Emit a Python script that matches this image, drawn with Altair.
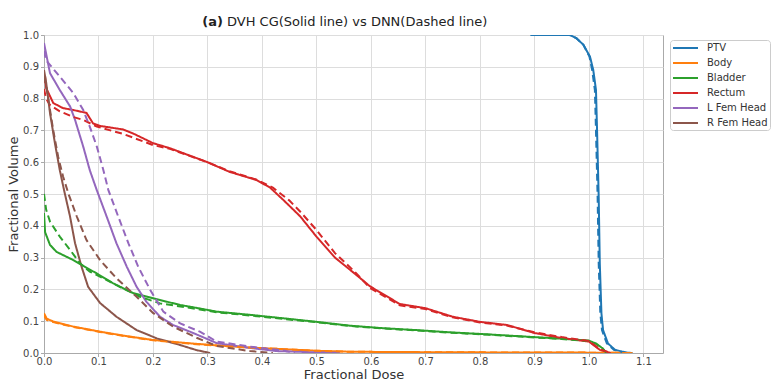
import altair as alt
import pandas as pd

organs = ["PTV", "Body", "Bladder", "Rectum", "L Fem Head", "R Fem Head"]
colors = ["#1f77b4", "#ff7f0e", "#2ca02c", "#d62728", "#9467bd", "#8c564b"]

title_tag = "(a)"
title_text = "DVH CG(Solid line) vs DNN(Dashed line)"
x_ticks = [0.0, 0.1, 0.2, 0.3, 0.4, 0.5, 0.6, 0.7, 0.8, 0.9, 1.0, 1.1]
y_ticks = [0.0, 0.1, 0.2, 0.3, 0.4, 0.5, 0.6, 0.7, 0.8, 0.9, 1.0]

# ---- CG (solid) ----
ptv_cg_x = [0.893, 0.93, 0.965, 0.977, 0.99, 1.002, 1.008, 1.013, 1.015, 1.018, 1.02, 1.023, 1.026, 1.035, 1.048, 1.069, 1.08]
ptv_cg_y = [1.0, 1.0, 1.0, 0.99, 0.969, 0.932, 0.89, 0.827, 0.70, 0.49, 0.282, 0.125, 0.072, 0.03, 0.01, 0.001, 0.0]
body_cg_x = [0.0, 0.005, 0.017, 0.054, 0.103, 0.152, 0.2, 0.25, 0.286, 0.317, 0.378, 0.44, 0.5, 0.561, 0.65, 0.8, 0.95, 1.02, 1.05, 1.08]
body_cg_y = [0.125, 0.108, 0.099, 0.083, 0.067, 0.053, 0.041, 0.033, 0.028, 0.024, 0.017, 0.012, 0.007, 0.004, 0.003, 0.002, 0.0015, 0.001, 0.0005, 0.0]
blad_cg_x = [0.0, 0.002, 0.011, 0.023, 0.054, 0.072, 0.097, 0.127, 0.164, 0.2, 0.25, 0.286, 0.317, 0.378, 0.44, 0.5, 0.561, 0.622, 0.684, 0.745, 0.8, 0.9, 0.95, 1.0, 1.013, 1.025, 1.032]
blad_cg_y = [0.44, 0.38, 0.34, 0.318, 0.292, 0.274, 0.25, 0.219, 0.188, 0.172, 0.151, 0.14, 0.13, 0.12, 0.109, 0.098, 0.086, 0.078, 0.072, 0.065, 0.06, 0.05, 0.045, 0.039, 0.03, 0.015, 0.0]
rect_cg_x = [0.0, 0.002, 0.004, 0.017, 0.035, 0.054, 0.078, 0.09, 0.103, 0.145, 0.164, 0.2, 0.231, 0.30, 0.34, 0.39, 0.415, 0.44, 0.47, 0.50, 0.534, 0.57, 0.598, 0.653, 0.70, 0.75, 0.8, 0.85, 0.9, 0.95, 1.0, 1.02, 1.04]
rect_cg_y = [0.85, 0.87, 0.833, 0.786, 0.77, 0.764, 0.755, 0.722, 0.714, 0.703, 0.69, 0.66, 0.644, 0.60, 0.57, 0.544, 0.52, 0.48, 0.43, 0.366, 0.30, 0.25, 0.21, 0.154, 0.141, 0.114, 0.098, 0.088, 0.063, 0.047, 0.036, 0.01, 0.0]
lfem_cg_x = [0.0, 0.011, 0.029, 0.048, 0.057, 0.072, 0.084, 0.0967, 0.115, 0.133, 0.152, 0.17, 0.188, 0.213, 0.237, 0.268, 0.286, 0.317, 0.378, 0.427, 0.5, 0.543]
lfem_cg_y = [0.975, 0.88, 0.827, 0.775, 0.733, 0.649, 0.575, 0.513, 0.429, 0.345, 0.271, 0.208, 0.161, 0.114, 0.088, 0.067, 0.054, 0.031, 0.016, 0.006, 0.002, 0.0]
rfem_cg_x = [0.0, 0.004, 0.011, 0.02, 0.029, 0.0367, 0.0477, 0.057, 0.069, 0.081, 0.103, 0.133, 0.17, 0.207, 0.25, 0.28, 0.305]
rfem_cg_y = [0.89, 0.85, 0.755, 0.66, 0.575, 0.513, 0.43, 0.345, 0.271, 0.208, 0.157, 0.114, 0.072, 0.046, 0.025, 0.009, 0.0]

# ---- DNN (dashed) ----
ptv_dnn_x = [0.893, 0.93, 0.965, 0.977, 0.99, 1.001, 1.006, 1.011, 1.013, 1.016, 1.018, 1.021, 1.024, 1.033, 1.046, 1.066, 1.078]
ptv_dnn_y = [1.0, 1.0, 1.0, 0.99, 0.969, 0.932, 0.89, 0.827, 0.70, 0.49, 0.282, 0.125, 0.072, 0.03, 0.01, 0.001, 0.0]
body_dnn_x = [0.0, 0.005, 0.017, 0.054, 0.103, 0.152, 0.2, 0.25, 0.286, 0.317, 0.378, 0.44, 0.5, 0.561, 0.65, 0.8, 0.95, 1.02, 1.05, 1.08]
body_dnn_y = [0.118, 0.104, 0.097, 0.082, 0.066, 0.052, 0.040, 0.032, 0.027, 0.023, 0.017, 0.012, 0.007, 0.004, 0.003, 0.002, 0.0015, 0.001, 0.0005, 0.0]
blad_dnn_x = [0.0, 0.004, 0.011, 0.029, 0.048, 0.066, 0.084, 0.109, 0.139, 0.176, 0.213, 0.286, 0.317, 0.378, 0.44, 0.5, 0.561, 0.622, 0.684, 0.745, 0.8, 0.9, 0.95, 1.0, 1.013, 1.025, 1.032]
blad_dnn_y = [0.50, 0.45, 0.413, 0.366, 0.324, 0.282, 0.256, 0.235, 0.208, 0.177, 0.156, 0.137, 0.128, 0.118, 0.107, 0.097, 0.085, 0.077, 0.071, 0.064, 0.059, 0.049, 0.044, 0.038, 0.029, 0.014, 0.0]
rect_dnn_x = [0.0, 0.004, 0.011, 0.029, 0.054, 0.072, 0.097, 0.145, 0.2, 0.231, 0.30, 0.34, 0.39, 0.42, 0.45, 0.47, 0.50, 0.534, 0.57, 0.598, 0.653, 0.70, 0.75, 0.8, 0.85, 0.9, 0.95, 1.0, 1.02, 1.04]
rect_dnn_y = [0.83, 0.80, 0.78, 0.76, 0.742, 0.733, 0.712, 0.689, 0.654, 0.642, 0.60, 0.572, 0.545, 0.52, 0.48, 0.445, 0.387, 0.314, 0.256, 0.205, 0.15, 0.138, 0.112, 0.096, 0.086, 0.065, 0.05, 0.038, 0.012, 0.0]
lfem_dnn_x = [0.0, 0.004, 0.011, 0.029, 0.054, 0.072, 0.084, 0.097, 0.109, 0.118, 0.136, 0.155, 0.173, 0.195, 0.219, 0.25, 0.286, 0.317, 0.378, 0.44, 0.46]
lfem_dnn_y = [0.95, 0.92, 0.906, 0.869, 0.817, 0.764, 0.712, 0.649, 0.575, 0.513, 0.43, 0.345, 0.271, 0.198, 0.13, 0.093, 0.067, 0.036, 0.02, 0.008, 0.0]
rfem_dnn_x = [0.0, 0.004, 0.017, 0.026, 0.035, 0.045, 0.06, 0.078, 0.103, 0.133, 0.17, 0.2, 0.237, 0.28, 0.317, 0.378, 0.42]
rfem_dnn_y = [0.87, 0.84, 0.70, 0.617, 0.555, 0.50, 0.43, 0.355, 0.292, 0.235, 0.177, 0.126, 0.083, 0.048, 0.022, 0.006, 0.0]

series = [
    ("PTV", "CG", ptv_cg_x, ptv_cg_y), ("Body", "CG", body_cg_x, body_cg_y),
    ("Bladder", "CG", blad_cg_x, blad_cg_y), ("Rectum", "CG", rect_cg_x, rect_cg_y),
    ("L Fem Head", "CG", lfem_cg_x, lfem_cg_y), ("R Fem Head", "CG", rfem_cg_x, rfem_cg_y),
    ("PTV", "DNN", ptv_dnn_x, ptv_dnn_y), ("Body", "DNN", body_dnn_x, body_dnn_y),
    ("Bladder", "DNN", blad_dnn_x, blad_dnn_y), ("Rectum", "DNN", rect_dnn_x, rect_dnn_y),
    ("L Fem Head", "DNN", lfem_dnn_x, lfem_dnn_y), ("R Fem Head", "DNN", rfem_dnn_x, rfem_dnn_y),
]
rows = []
for organ, method, xs, ys in series:
    for i, (xv, yv) in enumerate(zip(xs, ys)):
        rows.append({"organ": organ, "method": method, "series": organ + "-" + method,
                     "idx": i, "dose": xv, "volume": yv})
df = pd.DataFrame(rows)

FONT = "DejaVu Sans"

lines = alt.Chart(df).mark_line(strokeWidth=2, clip=True).encode(
    x=alt.X("dose:Q", scale=alt.Scale(domain=[0, 1.136], nice=False, zero=False),
            axis=alt.Axis(values=x_ticks, format=".1f", title="Fractional Dose",
                          labelFlush=False, labelPadding=0,
                          titleBaseline="alphabetic", titleY=25)),
    y=alt.Y("volume:Q", scale=alt.Scale(domain=[0, 1], nice=False),
            axis=alt.Axis(values=y_ticks, format=".1f", title="Fractional Volume",
                          labelFlush=False, labelPadding=2,
                          titleBaseline="middle", titleX=-31, titleY=159)),
    color=alt.Color("organ:N", scale=alt.Scale(domain=organs, range=colors),
                    legend=alt.Legend(title=None, orient="none", legendX=626, legendY=5,
                                      symbolType="M-1,0L4,0", symbolSize=100, symbolStrokeWidth=2,
                                      labelFont=FONT, labelFontSize=10, labelColor="#333",
                                      labelOffset=23, rowPadding=4, padding=2,
                                      strokeColor="#cccccc", fillColor="white",
                                      cornerRadius=3)),
    strokeDash=alt.StrokeDash("method:N", scale=alt.Scale(domain=["CG", "DNN"], range=[[1, 0], [7, 4]]),
                              legend=None),
    detail="series:N",
    order="idx:Q",
)

tag = alt.Chart(pd.DataFrame({"t": [title_tag]})).mark_text(
    font=FONT, fontSize=13, fontWeight="bold", align="right", baseline="alphabetic", color="#222"
).encode(text="t:N", x=alt.value(179), y=alt.value(-9))

ttl = alt.Chart(pd.DataFrame({"t": [title_text]})).mark_text(
    font=FONT, fontSize=13, align="left", baseline="alphabetic", color="#222"
).encode(text="t:N", x=alt.value(183), y=alt.value(-9))

chart = alt.layer(lines, tag, ttl).properties(
    width=619, height=318,
    autosize=alt.AutoSizeParams(type="none"),
    padding={"left": 44, "top": 35, "right": 111, "bottom": 27},
).configure_view(stroke="#aaaaaa", strokeWidth=1).configure_axis(
    labelFont=FONT, labelFontSize=10, labelColor="#444",
    tickColor="#aaaaaa", tickSize=3.5, domainColor="#aaaaaa",
    gridColor="#dddddd", titleFont=FONT, titleFontSize=13, titleFontWeight="normal",
    titleColor="#333",
)

chart.save("out.html", embed_options={"renderer": "svg", "actions": False})
